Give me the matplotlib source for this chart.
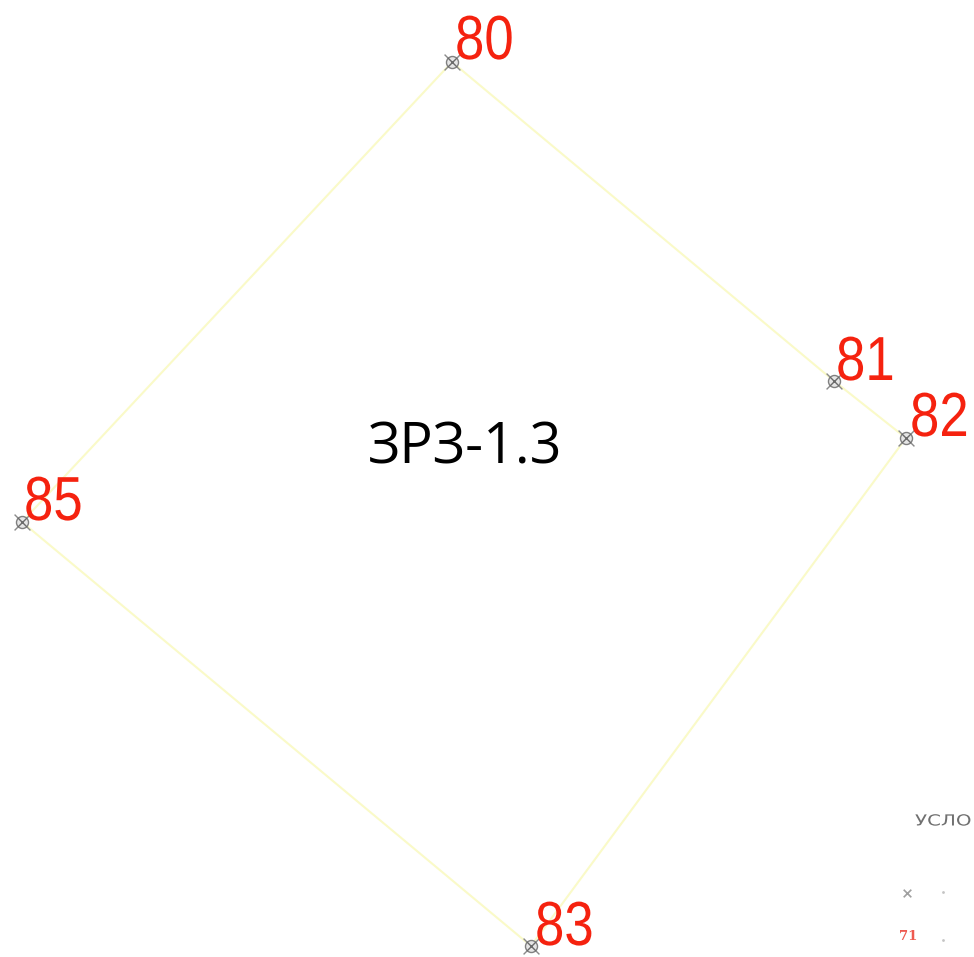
import matplotlib
matplotlib.use("Agg")
import matplotlib.pyplot as plt
import matplotlib.patheffects as pe
from matplotlib.transforms import Affine2D

# boundary points (pixels)
point_ids = ["80", "81", "82", "83", "85"]
point_x = [452, 834, 906, 531, 22]
point_y = [62, 381, 438, 946, 522]
label_x = [455, 836, 910, 535, 24]
label_y = [59, 380, 436, 945, 520]

zone_label = "ЗРЗ-1.3"
legend_title = "УСЛО"
legend_number = "71"
legend_dot_x = [943, 943]
legend_dot_y = [892, 940]


class Stretch(pe.AbstractPathEffect):
    # the scanned lettering is narrower/wider than any installed font
    def __init__(self, sx, sy):
        super().__init__()
        self.sx = sx
        self.sy = sy

    def draw_path(self, renderer, gc, tpath, affine, rgbFace=None):
        renderer.draw_path(gc, tpath, Affine2D().scale(self.sx, self.sy) + affine, rgbFace)


fig = plt.figure(figsize=(9.74, 9.57), dpi=100)
ax = fig.add_axes([0, 0, 1, 1])
ax.set_xlim(0, 974)
ax.set_ylim(957, 0)
ax.axis("off")

# outline, closed back to the first point
ax.plot(point_x + point_x[:1], point_y + point_y[:1], color="#fafac8", lw=1.5, zorder=1)

# survey marks
ax.scatter(point_x, point_y, s=130, marker="x", color="#8a8a8a", lw=1.0, zorder=2)
ax.scatter(point_x, point_y, s=75, facecolor="#e6e6e6", edgecolor="#808080", lw=1.0, zorder=3)
ax.scatter(point_x, point_y, s=40, marker="x", color="#6a6a6a", lw=1.0, zorder=4)

for name, x, y in zip(point_ids, label_x, label_y):
    ax.text(x, y, name, color="#f5220f", fontsize=40, family="Liberation Sans",
            ha="left", va="baseline", zorder=5, path_effects=[Stretch(0.95, 1.12)])

ax.text(465, 449, zone_label, color="black", fontsize=40, family="Open Sans",
        ha="center", va="center", zorder=5)

# scraps of the legend at the lower right edge
ax.text(915, 821, legend_title, color="#707070", fontsize=11, family="DejaVu Sans",
        ha="left", va="center", path_effects=[Stretch(1.3, 1.0)])
ax.scatter([907], [893], s=30, marker="x", color="#a0a0a0", lw=1.2)
ax.scatter(legend_dot_x, legend_dot_y, s=4, color="#c4c4c4", lw=0)
ax.text(908, 937, legend_number, color="#ee5a50", fontsize=9.5, family="DejaVu Serif",
        weight="bold", ha="center", va="center")

fig.savefig("out.png", dpi=100)
